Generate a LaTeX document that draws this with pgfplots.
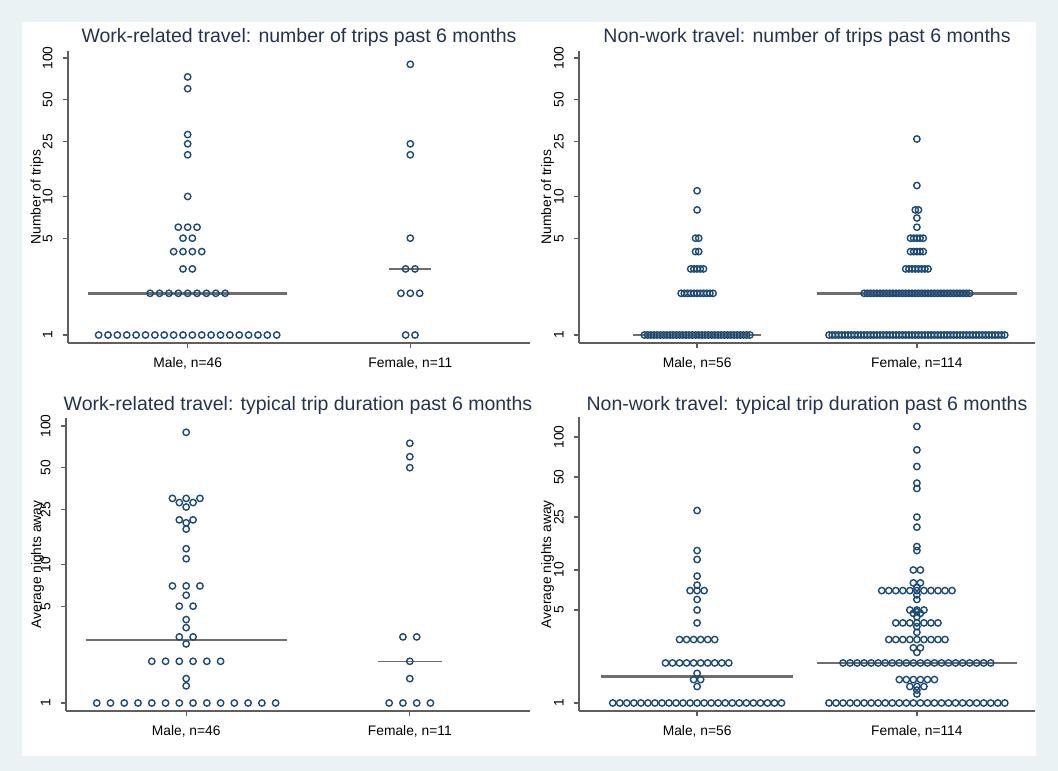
\documentclass[border=0pt]{standalone}
\usepackage{fontspec}
\setmainfont{Liberation Sans}
\usepackage{pgfplots}
\pgfplotsset{compat=1.18}

\definecolor{bgcol}{RGB}{234,242,243}
\definecolor{dotcol}{RGB}{30,75,118}
\definecolor{medcol}{RGB}{110,110,110}
\definecolor{axiscol}{RGB}{95,95,95}
\definecolor{titlecol}{RGB}{35,52,82}
\newcommand\tickfont{\fontsize{13.8}{16}\selectfont}
\newcommand\titlefont{\fontsize{19.5}{23}\selectfont}

% one row of dots: #1 group centre, #2 dot spacing, #3 value, #4 number of dots
\newcommand\addrow[4]{%
  \pgfmathsetmacro\rowhalf{(#4-1)/2}%
  \foreach \j in {1,...,#4}{%
    \pgfmathsetmacro\rowx{#1+(\j-1-\rowhalf)*#2}%
    \xdef\coordlist{\coordlist(\rowx,#3)}%
  }%
}
% #1 target macro, #2 centre, #3 spacing, #4 list value/count
\newcommand\buildgroup[4]{%
  \gdef\coordlist{}%
  \foreach \vv/\nn in {#4}{\addrow{#2}{#3}{\vv}{\nn}}%
  \global\let#1\coordlist
}

% Work-related travel: number of trips
\buildgroup\pAm{1}{0.042105}{1/20,2/9,3/2,4/4,5/2,6/3,10/1,20/1,24/1,28/1,60/1,73/1}
\buildgroup\pAf{2}{0.042105}{1/2,2/3,3/2,5/1,20/1,24/1,90/1}
% Non-work travel: number of trips
\buildgroup\pBm{1}{0.014545}{1/34,2/11,3/5,4/2,5/2,8/1,11/1}
\buildgroup\pBf{2}{0.014545}{1/56,2/34,3/8,4/5,5/5,6/1,7/1,8/2,12/1,26/1}
% Work-related travel: typical trip duration
\buildgroup\pCm{1}{0.061538}{1/14,1.33/1,1.5/1,2/6,2.67/1,3/2,3.5/1,4/1,5/2,6/1,7/3,11/1,13/1,18/1,20/1,21/2,26/1,28/2,30/3,90/1}
\buildgroup\pCf{2}{0.061538}{1/4,1.5/1,2/1,3/2,50/1,60/1,75/1}
% Non-work travel: typical trip duration
\buildgroup\pDm{1}{0.032}{1/25,1.33/1,1.5/2,1.67/1,2/10,3/6,4/1,5/1,6/1,7/3,7.7/1,9/1,12/1,14/1,28/1}
\buildgroup\pDf{2}{0.032}{1/26,1.17/1,1.25/1,1.33/3,1.5/6,2/22,2.4/1,2.6/2,3/9,3.4/1,3.75/1,4/7,4.45/1,4.72/2,4.85/1,5/3,6/1,6.5/1,7/11,7.4/1,8/2,10/2,14/1,15/1,21/1,25/1,41/1,45/1,60/1,80/1,120/1}

\pgfplotsset{
  dotstyle/.style={only marks, mark=o, mark size=3.2pt, mark options={draw=dotcol, line width=1.4pt}},
  medthick/.style={draw=medcol, line width=2.8pt, no marks},
  medthin/.style={draw=medcol, line width=1.4pt, no marks},
}

\begin{document}
\begin{tikzpicture}
\fill[bgcol] (0pt,0pt) rectangle (1058pt,771pt);
\fill[white] (22pt,15pt) rectangle (1036pt,749pt);
\useasboundingbox (0pt,0pt) rectangle (1058pt,771pt);

% ---- panel 1
\begin{axis}[at={(68pt,428pt)}, anchor=south west, scale only axis, width=462pt, height=292pt,
  ymode=log, xmin=0.4625, xmax=2.5375, ymin=0.8756, ymax=112.3,
  axis lines=left, axis line style={-, draw=axiscol, line width=1.3pt},
  tick align=outside, major tick length=5pt, tick style={draw=axiscol, line width=1.3pt},
  xtick={1,2}, ytick={1,5,10,25,50,100}, yticklabels={1,5,10,25,50,100},
  clip=false,
  tick label style={font=\tickfont, text=black},
  xticklabel style={anchor=base, yshift=-20pt},
  yticklabel style={xshift=-10.5pt, rotate=90, anchor=base},
  /pgf/number format/assume math mode=true,
  xticklabels={{Male, n=46},{Female, n=11}}]
  \addplot[medthick] coordinates {(0.552,2) (1.448,2)};
  \addplot[medthin] coordinates {(1.906,3) (2.094,3)};
  \edef\temp{\noexpand\addplot[dotstyle] coordinates {\pAm};}\temp
  \edef\temp{\noexpand\addplot[dotstyle] coordinates {\pAf};}\temp
  \node[anchor=base, font=\titlefont, text=titlecol] at ([yshift=8pt]rel axis cs:0.5,1) {Work-related travel: number of trips past 6 months};
  \node[rotate=90, font=\tickfont] at ([xshift=-31pt]rel axis cs:0,0.5) {Number of trips};
\end{axis}

% ---- panel 2
\begin{axis}[at={(579pt,428pt)}, anchor=south west, scale only axis, width=456pt, height=292pt,
  ymode=log, xmin=0.4625, xmax=2.5375, ymin=0.8756, ymax=112.3,
  axis lines=left, axis line style={-, draw=axiscol, line width=1.3pt},
  tick align=outside, major tick length=5pt, tick style={draw=axiscol, line width=1.3pt},
  xtick={1,2}, ytick={1,5,10,25,50,100}, yticklabels={1,5,10,25,50,100},
  clip=false,
  tick label style={font=\tickfont, text=black},
  xticklabel style={anchor=base, yshift=-20pt},
  yticklabel style={xshift=-10.5pt, rotate=90, anchor=base},
  /pgf/number format/assume math mode=true,
  xticklabels={{Male, n=56},{Female, n=114}}]
  \addplot[medthick] coordinates {(0.71,1) (1.29,1)};
  \addplot[medthick] coordinates {(1.545,2) (2.455,2)};
  \edef\temp{\noexpand\addplot[dotstyle] coordinates {\pBm};}\temp
  \edef\temp{\noexpand\addplot[dotstyle] coordinates {\pBf};}\temp
  \node[anchor=base, font=\titlefont, text=titlecol] at ([yshift=8pt]rel axis cs:0.5,1) {Non-work travel: number of trips past 6 months};
  \node[rotate=90, font=\tickfont] at ([xshift=-31.5pt]rel axis cs:0,0.5) {Number of trips};
\end{axis}

% ---- panel 3
\begin{axis}[at={(66pt,60pt)}, anchor=south west, scale only axis, width=464pt, height=293pt,
  ymode=log, xmin=0.4625, xmax=2.5375, ymin=0.8756, ymax=114.2,
  axis lines=left, axis line style={-, draw=axiscol, line width=1.3pt},
  tick align=outside, major tick length=5pt, tick style={draw=axiscol, line width=1.3pt},
  xtick={1,2}, ytick={1,5,10,25,50,100}, yticklabels={1,5,10,25,50,100},
  clip=false,
  tick label style={font=\tickfont, text=black},
  xticklabel style={anchor=base, yshift=-20pt},
  yticklabel style={xshift=-10.5pt, rotate=90, anchor=base},
  /pgf/number format/assume math mode=true,
  xticklabels={{Male, n=46},{Female, n=11}}]
  \addplot[medthick] coordinates {(0.55,2.85) (1.45,2.85)};
  \addplot[medthin] coordinates {(1.857,2) (2.143,2)};
  \edef\temp{\noexpand\addplot[dotstyle] coordinates {\pCm};}\temp
  \edef\temp{\noexpand\addplot[dotstyle] coordinates {\pCf};}\temp
  \node[anchor=base, font=\titlefont, text=titlecol] at ([yshift=7pt]rel axis cs:0.5,1) {Work-related travel: typical trip duration past 6 months};
  \node[rotate=90, font=\tickfont] at ([xshift=-28.5pt]rel axis cs:0,0.5) {Average nights away};
\end{axis}

% ---- panel 4
\begin{axis}[at={(579pt,60pt)}, anchor=south west, scale only axis, width=456pt, height=293.5pt,
  ymode=log, xmin=0.4625, xmax=2.5375, ymin=0.8706, ymax=140.2,
  axis lines=left, axis line style={-, draw=axiscol, line width=1.3pt},
  tick align=outside, major tick length=5pt, tick style={draw=axiscol, line width=1.3pt},
  xtick={1,2}, ytick={1,5,10,25,50,100}, yticklabels={1,5,10,25,50,100},
  clip=false,
  tick label style={font=\tickfont, text=black},
  xticklabel style={anchor=base, yshift=-20pt},
  yticklabel style={xshift=-10.5pt, rotate=90, anchor=base},
  /pgf/number format/assume math mode=true,
  xticklabels={{Male, n=56},{Female, n=114}}]
  \addplot[medthick] coordinates {(0.562,1.58) (1.438,1.58)};
  \addplot[medthick] coordinates {(1.545,2) (2.455,2)};
  \edef\temp{\noexpand\addplot[dotstyle] coordinates {\pDm};}\temp
  \edef\temp{\noexpand\addplot[dotstyle] coordinates {\pDf};}\temp
  \node[anchor=base, font=\titlefont, text=titlecol] at ([yshift=7pt]rel axis cs:0.5,1) {Non-work travel: typical trip duration past 6 months};
  \node[rotate=90, font=\tickfont] at ([xshift=-31.5pt]rel axis cs:0,0.5) {Average nights away};
\end{axis}
\end{tikzpicture}
\end{document}
